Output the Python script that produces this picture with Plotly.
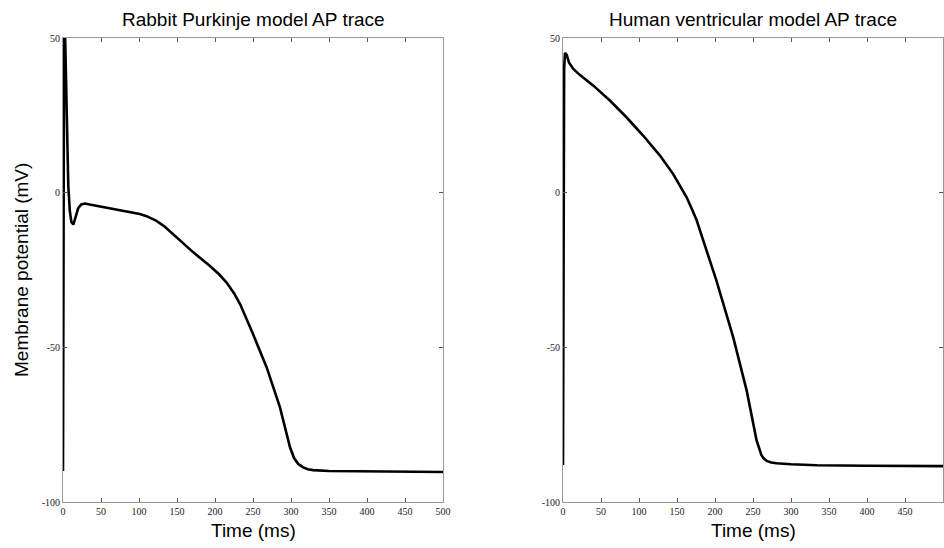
import plotly.graph_objects as go

# Rabbit Purkinje model AP trace
rabbit_t = [0, 0.5, 1.5, 3, 5, 7, 9, 11, 13.6, 16, 20, 24, 29, 35, 48.7, 60, 75, 88, 101, 110,
            123, 134, 145, 158, 171.5, 193, 205, 215, 225, 233, 241, 250, 268, 285.5, 298.7,
            304, 309.6, 316, 322, 329, 350, 391, 450, 500]
rabbit_v = [-90, -20, 60, 48, 25, 2, -6, -9.5, -10.3, -8.5, -5, -3.8, -3.5, -3.8, -4.4, -4.9,
            -5.6, -6.2, -6.9, -7.6, -9.1, -11.0, -13.4, -16.3, -19.3, -23.6, -26.3, -29.0,
            -32.5, -36, -40.5, -45.7, -56.5, -69.4, -82.3, -85.8, -87.7, -88.8, -89.4, -89.7,
            -90, -90.1, -90.2, -90.3]

# Human ventricular model AP trace
human_t = [0, 0.5, 1.5, 2.6, 5, 8, 13.6, 22.4, 40, 62, 83.8, 105.7, 127.6, 145, 155, 162.7,
           170, 176, 184.6, 193, 202, 224, 241.7, 254.8, 258, 261, 264, 268, 274, 281, 300,
           334, 400, 500]
human_v = [-88, -10, 40, 45.2, 44.5, 42, 40, 38, 34.6, 29.7, 24.3, 18.4, 12, 6, 2, -1.5,
           -5.5, -9, -15.5, -21.5, -28.5, -46.8, -64, -80.2, -83, -84.8, -85.9, -86.7, -87.2,
           -87.5, -87.8, -88.1, -88.3, -88.4]

x_ticks = [0, 50, 100, 150, 200, 250, 300, 350, 400, 450, 500]
y_ticks = [-100, -50, 0, 50]

titles = ["Rabbit Purkinje model AP trace", "Human ventricular model AP trace"]

fig = go.Figure()
fig.add_trace(go.Scatter(x=rabbit_t, y=rabbit_v, mode="lines",
                         line=dict(color="black", width=2.6), xaxis="x", yaxis="y",
                         showlegend=False))
fig.add_trace(go.Scatter(x=human_t, y=human_v, mode="lines",
                         line=dict(color="black", width=2.6), xaxis="x2", yaxis="y2",
                         showlegend=False))

W, H = 944, 548
L1, R1 = 63, 443
L2, R2 = 563, 943
T, B = 38, 502
ydom = [(H - B) / H, (H - T) / H]

tickfont = dict(family="Liberation Serif, Times New Roman, serif", size=10, color="#222")
common_x = dict(range=[0, 500], tickvals=x_ticks, ticktext=[str(v) for v in x_ticks],
                ticks="inside", ticklen=4, automargin=False,
                tickcolor="#555", showline=True, linecolor="#999", linewidth=1,
                mirror="ticks", showgrid=False, zeroline=False, tickfont=tickfont)
common_y = dict(range=[-100, 50], tickvals=y_ticks, ticktext=[str(v) for v in y_ticks],
                ticks="inside", ticklen=4, automargin=False,
                tickcolor="#555", showline=True, linecolor="#999", linewidth=1,
                mirror="ticks", showgrid=False, zeroline=False, tickfont=tickfont)

fig.update_layout(
    width=W, height=H,
    margin=dict(l=0, r=0, t=0, b=0, autoexpand=False),
    paper_bgcolor="white", plot_bgcolor="white",
    xaxis=dict(domain=[L1 / W, R1 / W], anchor="y", **common_x),
    yaxis=dict(domain=ydom, anchor="x", **common_y),
    xaxis2=dict(domain=[L2 / W, R2 / W], anchor="y2", **common_x),
    yaxis2=dict(domain=ydom, anchor="x2", **common_y),
)

labfont = dict(family="Liberation Sans, Arial, sans-serif", size=19, color="black")
ann = []
for (l, r), t in zip([(L1, R1), (L2, R2)], titles):
    c = (l + r) / 2 / W
    ann.append(dict(text=t, x=c, y=1 - 20 / H, xref="paper", yref="paper",
                    showarrow=False, font=labfont, xanchor="center", yanchor="middle"))
    ann.append(dict(text="Time (ms)", x=c, y=1 - 530 / H, xref="paper", yref="paper",
                    showarrow=False, font=labfont, xanchor="center", yanchor="middle"))
ann.append(dict(text="Membrane potential (mV)", x=21 / W, y=1 - 270 / H, xref="paper",
                yref="paper", showarrow=False, font=labfont, textangle=-90,
                xanchor="center", yanchor="middle"))
fig.update_layout(annotations=ann)

fig.write_html("out.html")
